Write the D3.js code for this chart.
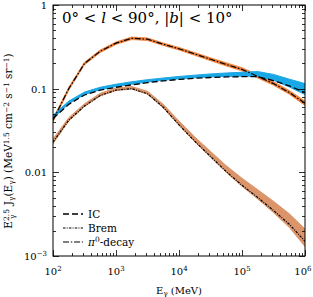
<!DOCTYPE html>
<html>
<head>
<meta charset="utf-8">
<script src="https://cdn.jsdelivr.net/npm/d3@7"></script>
<style>
  body { margin: 0; background: #fff; }
  svg text { font-family: "DejaVu Serif", "Liberation Serif", serif; }
</style>
</head>
<body>
<script>
// energies (MeV), quarter-decade steps
var energy = [100, 178, 316, 562, 1000, 1778, 3162, 5623, 10000, 17783, 31623, 56234, 100000, 177828, 316228, 562341, 1000000];

// model components, E^2.5 J(E)
var pi0   = [0.042, 0.10, 0.20, 0.28, 0.35, 0.40, 0.39, 0.34, 0.30, 0.26, 0.225, 0.195, 0.17, 0.14, 0.115, 0.09, 0.067];
var ic    = [0.044, 0.065, 0.084, 0.096, 0.104, 0.111, 0.118, 0.124, 0.129, 0.133, 0.136, 0.138, 0.139, 0.139, 0.125, 0.108, 0.09];
var brem  = [0.023, 0.042, 0.062, 0.083, 0.096, 0.100, 0.087, 0.060, 0.037, 0.0235, 0.0155, 0.0102, 0.0070, 0.0050, 0.0035, 0.0024, 0.0015];

// uncertainty bands
var icLow    = [0.044, 0.066, 0.085, 0.097, 0.106, 0.113, 0.120, 0.126, 0.131, 0.135, 0.138, 0.140, 0.141, 0.141, 0.126, 0.105, 0.085];
var icHigh   = [0.048, 0.071, 0.091, 0.104, 0.113, 0.121, 0.128, 0.134, 0.140, 0.145, 0.150, 0.154, 0.157, 0.160, 0.148, 0.130, 0.115];
var pi0Low   = [0.040, 0.096, 0.193, 0.270, 0.338, 0.386, 0.376, 0.328, 0.289, 0.250, 0.216, 0.187, 0.163, 0.134, 0.110, 0.086, 0.063];
var pi0High  = [0.044, 0.104, 0.207, 0.290, 0.362, 0.414, 0.404, 0.352, 0.311, 0.270, 0.234, 0.204, 0.178, 0.147, 0.121, 0.095, 0.071];
var bremLow  = [0.022, 0.041, 0.061, 0.082, 0.095, 0.099, 0.086, 0.059, 0.0365, 0.0232, 0.0152, 0.0100, 0.0068, 0.0048, 0.0033, 0.0022, 0.0013];
var bremHigh = [0.025, 0.045, 0.066, 0.088, 0.102, 0.106, 0.093, 0.065, 0.041, 0.0265, 0.0178, 0.0120, 0.0085, 0.0062, 0.0045, 0.0032, 0.0021];

var xTicks = [1e2, 1e3, 1e4, 1e5, 1e6];
var xTickLabels = ["2", "3", "4", "5", "6"];
var yTicks = [1e-3, 1e-2, 1e-1, 1];
var yTickLabels = ["10", "0.01", "0.1", "1"];

var margin = {top: 5, right: 8, bottom: 41, left: 53},
    W = 313, H = 297,
    width = W - margin.left - margin.right,
    height = H - margin.top - margin.bottom;

var x = d3.scaleLog().domain([1e2, 1e6]).range([0, width]);
var y = d3.scaleLog().domain([1e-3, 1]).range([height, 0]);

var svg = d3.select("body").append("svg")
    .attr("width", W)
    .attr("height", H);

var g = svg.append("g")
    .attr("transform", "translate(" + margin.left + "," + margin.top + ")");

// clip
g.append("clipPath").attr("id", "clip")
  .append("rect").attr("width", width).attr("height", height);
var plot = g.append("g").attr("clip-path", "url(#clip)");

function band(lo, hi) {
  return d3.area()
    .x(function(d, i) { return x(energy[i]); })
    .y0(function(d, i) { return y(lo[i]); })
    .y1(function(d, i) { return y(hi[i]); })(energy);
}
function line(vals) {
  return d3.line()
    .x(function(d, i) { return x(energy[i]); })
    .y(function(d) { return y(d); })(vals);
}

plot.append("path").attr("d", band(bremLow, bremHigh)).attr("fill", "#dc956b").attr("stroke", "#dc956b").attr("stroke-width", 1);
plot.append("path").attr("d", band(pi0Low, pi0High)).attr("fill", "#ef7d35").attr("stroke", "#ef7d35").attr("stroke-width", 0.8);
plot.append("path").attr("d", band(icLow, icHigh)).attr("fill", "#1aa7e6").attr("stroke", "#1aa7e6").attr("stroke-width", 1);

plot.append("path").attr("d", line(ic)).attr("fill", "none").attr("stroke", "#000")
    .attr("stroke-width", 1.3).attr("stroke-dasharray", "6,3");
plot.append("path").attr("d", line(brem)).attr("fill", "none").attr("stroke", "#000")
    .attr("stroke-width", 1.2).attr("stroke-dasharray", "2.5,1.2,1,1.2");
plot.append("path").attr("d", line(pi0)).attr("fill", "none").attr("stroke", "#000")
    .attr("stroke-width", 1.2).attr("stroke-dasharray", "6,1.8,1.5,1.8");

// frame
g.append("rect").attr("width", width).attr("height", height)
  .attr("fill", "none").attr("stroke", "#000").attr("stroke-width", 1);

// ticks on all four sides, pointing inward
var minorX = [], minorY = [];
for (var e = 2; e < 6; e++) for (var m = 2; m < 10; m++) minorX.push(m * Math.pow(10, e));
for (var e2 = -3; e2 < 0; e2++) for (var m2 = 2; m2 < 10; m2++) minorY.push(m2 * Math.pow(10, e2));

var tk = g.append("g").attr("stroke", "#000").attr("stroke-width", 0.8);
function xt(vals, len) {
  vals.forEach(function(v) {
    var px = Math.round(x(v)) + 0.5;
    tk.append("line").attr("x1", px).attr("x2", px).attr("y1", height).attr("y2", height - len);
    tk.append("line").attr("x1", px).attr("x2", px).attr("y1", 0).attr("y2", len);
  });
}
function yt(vals, len) {
  vals.forEach(function(v) {
    var py = Math.round(y(v)) + 0.5;
    tk.append("line").attr("y1", py).attr("y2", py).attr("x1", 0).attr("x2", len);
    tk.append("line").attr("y1", py).attr("y2", py).attr("x1", width).attr("x2", width - len);
  });
}
xt(xTicks, 6); xt(minorX, 3);
yt(yTicks, 6); yt(minorY, 3);

// x tick labels 10^n
xTicks.forEach(function(v, i) {
  var t = g.append("text").attr("x", x(v)).attr("y", height + 19)
    .attr("text-anchor", "middle").style("font-size", "10px");
  t.append("tspan").text("10");
  t.append("tspan").attr("dy", -4).style("font-size", "7px").text(xTickLabels[i]);
  // keep the last label inside the window
  var bb = t.node().getBBox();
  var over = margin.left + bb.x + bb.width - (W - 1);
  if (over > 0) t.attr("x", x(v) - over);
});

// y tick labels
yTicks.forEach(function(v, i) {
  var t = g.append("text").attr("x", -6).attr("y", y(v) + 4)
    .attr("text-anchor", "end").style("font-size", "10px");
  if (i === 0) {
    t.append("tspan").text("10");
    t.append("tspan").attr("dy", -4).style("font-size", "7px").text("\u22123");
  } else {
    t.text(yTickLabels[i]);
  }
});

// x axis title
var xl = g.append("text").attr("x", width / 2).attr("y", height + 38)
  .attr("text-anchor", "middle").style("font-size", "10px");
xl.append("tspan").text("E");
xl.append("tspan").attr("dy", 2).style("font-size", "7px").text("\u03b3");
xl.append("tspan").attr("dy", -2).text(" (MeV)");

// y axis title
var yl = svg.append("text")
  .attr("transform", "translate(12," + 141 + ")rotate(-90)")
  .attr("text-anchor", "middle").style("font-size", "10.5px");
yl.append("tspan").text("E");
yl.append("tspan").attr("dy", -3.5).style("font-size", "7.5px").text("2.5");
yl.append("tspan").attr("dx", -10).attr("dy", 6).style("font-size", "7.5px").text("\u03b3");
yl.append("tspan").attr("dx", 6).attr("dy", -2.5).text(" J");
yl.append("tspan").attr("dy", 2).style("font-size", "7.5px").text("\u03b3");
yl.append("tspan").attr("dy", -2).text("(E");
yl.append("tspan").attr("dy", 2).style("font-size", "7.5px").text("\u03b3");
yl.append("tspan").attr("dy", -2).text(") (MeV");
yl.append("tspan").attr("dy", -3.5).style("font-size", "7.5px").text("1.5");
yl.append("tspan").attr("dy", 3.5).text(" cm");
yl.append("tspan").attr("dy", -3.5).style("font-size", "7.5px").text("\u22122");
yl.append("tspan").attr("dy", 3.5).text(" s");
yl.append("tspan").attr("dy", -3.5).style("font-size", "7.5px").text("\u22121");
yl.append("tspan").attr("dy", 3.5).text(" sr");
yl.append("tspan").attr("dy", -3.5).style("font-size", "7.5px").text("\u22121");
yl.append("tspan").attr("dy", 3.5).text(")");

// title
var tt = g.append("text").attr("x", 9).attr("y", 18).style("font-size", "15px");
tt.append("tspan").text("0\u00b0 < ");
tt.append("tspan").style("font-style", "italic").text("l");
tt.append("tspan").text(" < 90\u00b0, |");
tt.append("tspan").style("font-style", "italic").text("b");
tt.append("tspan").text("| < 10\u00b0");

// legend
var legend = [
  {name: "IC", dash: "6,3", w: 1.3},
  {name: "Brem", dash: "2.5,1.2,1,1.2", w: 1.2},
  {name: "\u03c00-decay", dash: "6,1.8,1.5,1.8", w: 1.2}
];
legend.forEach(function(d, i) {
  var ly = 209 + i * 14;
  g.append("line").attr("x1", 10).attr("x2", 30).attr("y1", ly).attr("y2", ly)
    .attr("stroke", "#000").attr("stroke-width", d.w).attr("stroke-dasharray", d.dash);
  var t = g.append("text").attr("x", 35).attr("y", ly + 4).style("font-size", "10.5px");
  if (i === 2) {
    t.append("tspan").style("font-style", "italic").text("\u03c0");
    t.append("tspan").attr("dy", -4).style("font-size", "7.5px").text("0");
    t.append("tspan").attr("dy", 4).text("-decay");
  } else {
    t.text(d.name);
  }
});
</script>
</body>
</html>
